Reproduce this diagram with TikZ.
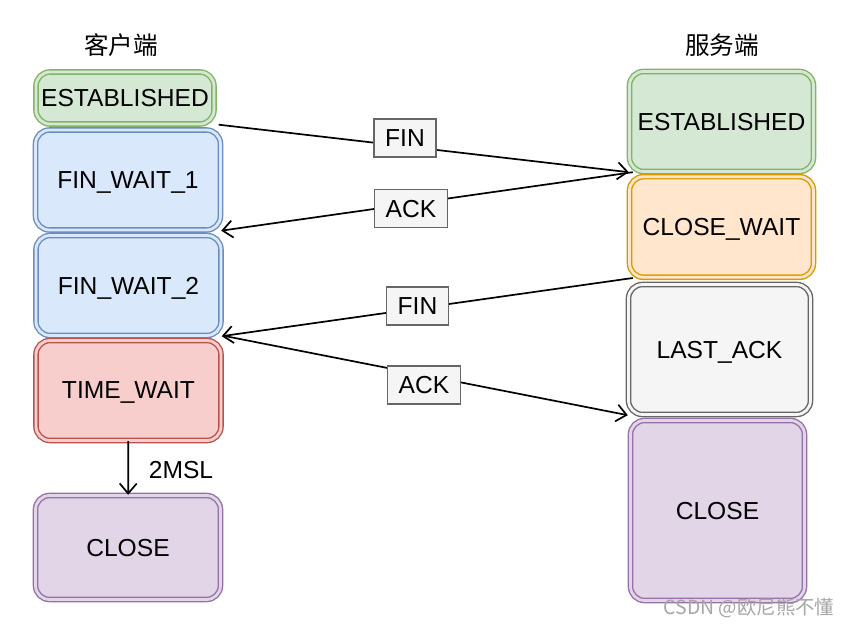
\documentclass[tikz,border=0pt]{standalone}
\usepackage{fontspec}
\setmainfont{Liberation Sans}
\newfontfamily\cjk{Noto Sans CJK SC}
\usetikzlibrary{arrows.meta}
\definecolor{grfill}{HTML}{D5E8D4}
\definecolor{grline}{HTML}{82B366}
\definecolor{blfill}{HTML}{DAE8FC}
\definecolor{blline}{HTML}{6C8EBF}
\definecolor{rdfill}{HTML}{F8CECC}
\definecolor{rdline}{HTML}{B85450}
\definecolor{orfill}{HTML}{FFE6CC}
\definecolor{orline}{HTML}{D79B00}
\definecolor{gyfill}{HTML}{F5F5F5}
\definecolor{gyline}{HTML}{666666}
\definecolor{pufill}{HTML}{E1D5E7}
\definecolor{puline}{HTML}{9673A6}
\begin{document}
\begin{tikzpicture}
		[x=0.5pt,y=-0.5pt,
		every node/.style={font=\fontsize{12.3}{14}\selectfont, text=black},
		stbox/.style={rectangle, rounded corners=7pt, line width=0.7pt, double distance=1.4pt, inner sep=0pt, text depth=0pt},
		okstate/.style={stbox, draw=grline, double=grfill, fill=grfill},
		waitstate/.style={stbox, draw=blline, double=blfill, fill=blfill},
		timestate/.style={stbox, draw=rdline, double=rdfill, fill=rdfill},
		cwstate/.style={stbox, draw=orline, double=orfill, fill=orfill},
		lastate/.style={stbox, draw=gyline, double=gyfill, fill=gyfill},
		endstate/.style={stbox, draw=puline, double=pufill, fill=pufill},
		msg/.style={rectangle, draw=gyline, fill=gyfill, line width=0.7pt, minimum height=19pt, inner xsep=5.5pt, inner ysep=0pt, text depth=0pt},
		sig/.style={line width=0.85pt, -{Straight Barb[length=5pt,width=8.5pt]}}]
		\useasboundingbox[fill=white] (0,0) rectangle (848,631);
		% client side
		\node (ct) at (121,45) {\cjk 客户端};
		\node[okstate, minimum width=89pt, minimum height=26pt] (cE) at (125,98) {ESTABLISHED};
		\node[waitstate, minimum width=92.5pt, minimum height=50pt] (cW1) at (128,180) {FIN\_WAIT\_1};
		\node[waitstate, minimum width=92.5pt, minimum height=50pt] (cW2) at (128.5,285.5) {FIN\_WAIT\_2};
		\node[timestate, minimum width=92.5pt, minimum height=50pt] (cTW) at (128.5,390.5) {TIME\_WAIT};
		\node[endstate, minimum width=92.5pt, minimum height=52pt] (cC) at (128,547.5) {CLOSE};
		% server side
		\node (st) at (722,45) {\cjk 服务端};
		\node[okstate, minimum width=92pt, minimum height=50pt] (sE) at (721.5,121.5) {ESTABLISHED};
		\node[cwstate, minimum width=92pt, minimum height=50.3pt] (sCW) at (721.5,227) {CLOSE\_WAIT};
		\node[lastate, minimum width=91pt, minimum height=65pt] (sLA) at (719.5,349.5) {LAST\_ACK};
		\node[endstate, minimum width=87pt, minimum height=90pt] (sC) at (717.5,510.5) {CLOSE};
		% messages
		\foreach \from/\to in {cE.south east/sE.south west,sE.south west/cW1.south east,sCW.south west/cW2.south east,cW2.south east/sLA.south west}
		\draw[sig]  ([xshift=2pt]\from) -- (\to);
		\node[msg] (m1) at (405,138) {FIN};
		\node[msg] (m2) at (411,208.5) {ACK};
		\node[msg] (m3) at (417.5,306) {FIN};
		\node[msg] (m4) at (424,385) {ACK};
		\draw[sig] (cTW) -- (cC);
		\node (t2) at (181,470) {2MSL};
		\node[font=\cjk\fontsize{9.7}{11}\selectfont, text=black!35] (wm) at (749,608) {CSDN @欧尼熊不懂};
	\end{tikzpicture}
\end{document}
